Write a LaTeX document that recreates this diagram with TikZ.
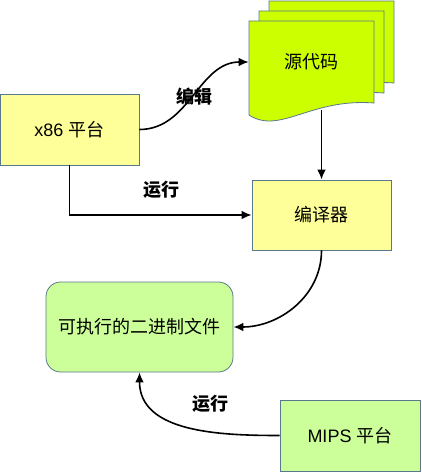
\documentclass[tikz,border=0pt]{standalone}
\usepackage{fontspec}
\setmainfont{Liberation Sans}
\newfontfamily\cjk{Noto Sans CJK SC}
\usetikzlibrary{arrows.meta}

\definecolor{boxyellow}{RGB}{255,255,153}
\definecolor{boxgreen}{RGB}{204,255,153}
\definecolor{pagegreen}{RGB}{204,255,0}
\definecolor{boxline}{RGB}{90,120,140}

\begin{document}
\begin{tikzpicture}
 [
  x=0.75pt, y=-0.75pt,
  >={Latex[length=7.5pt,width=6.5pt]},
  font=\fontsize{13.5}{16}\selectfont,
  box/.style   = {draw=boxline, line width=.6pt, inner sep=0pt},
  plat/.style  = {box, fill=boxyellow, minimum width=104.25pt, minimum height=53.25pt},
  page/.style  = {draw=boxline, line width=.6pt, fill=pagegreen},
  link/.style  = {->, line width=1.2pt},
  lbl/.style   = {font=\fontsize{13.5}{16}\selectfont\cjk\bfseries},
 ]
 \useasboundingbox (0,0) rectangle (421,473);

 % the boxes
 \node (x86) at (69.5,129.5) [plat] {x86 {\cjk 平台}};
 \node (comp) at (321.5,215) [plat, minimum height=52.5pt] {\cjk 编译器};
 \node (exe) at (139.5,327) [box, fill=boxgreen, rounded corners=11pt,
   minimum width=140.25pt, minimum height=67.5pt] {\cjk 可执行的二进制文件};
 \node (mips) at (350,435.5) [plat, fill=boxgreen, minimum width=105pt] {MIPS {\cjk 平台}};

 % the source pages
 \foreach \d in {20,10,0}
   \draw[page, shift={(249+\d,21-\d)}] (0,0) -- (125,0) -- (125,82)
     .. controls (61,77) and (31,114) .. (0,94) -- cycle;
 \node (src) at (311.5,62) [minimum width=93.75pt] {\cjk 源代码};
 \coordinate (srcbot) at (321.5,110);

 % the labels
 \node (edit) at (194,97) [lbl] {编辑};
 \node (run1) at (161,190) [lbl] {运行};
 \node (run2) at (210,404) [lbl] {运行};

 % the arrows
 \draw[link] (x86.east) to[out=0, in=180] (src.west);
 \draw[link] (srcbot) -- (comp.north);
 \draw[link] (x86.south) |- (comp.west);
 \draw[link] (comp.south) to[out=-90, in=0] (exe.east);
 \draw[link] (mips.west) to[out=180, in=-90] (exe.south);
\end{tikzpicture}
\end{document}
